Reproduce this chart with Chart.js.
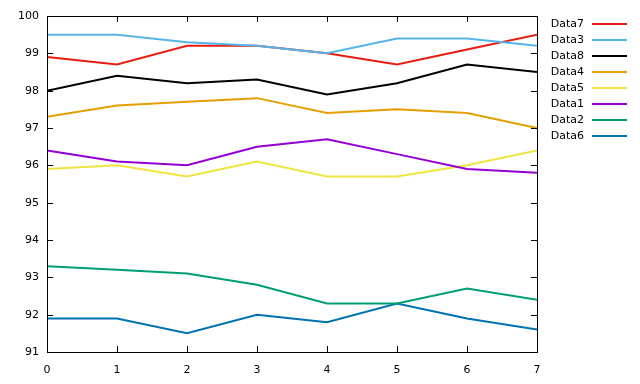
<!DOCTYPE html>
<html>
<head>
<meta charset="utf-8">
<script src="https://cdn.jsdelivr.net/npm/chart.js@4"></script>
<style>
html,body{margin:0;padding:0;background:#fff;}
#wrap{width:640px;height:384px;}
</style>
</head>
<body>
<div id="wrap"><canvas id="c" width="640" height="384"></canvas></div>
<script>
const xValues = [0, 1, 2, 3, 4, 5, 6, 7];
const seriesNames = ["Data1", "Data2", "Data3", "Data4", "Data5", "Data6", "Data7", "Data8"];
const data1 = [96.4, 96.1, 96.0, 96.5, 96.7, 96.3, 95.9, 95.8];
const data2 = [93.3, 93.2, 93.1, 92.8, 92.3, 92.3, 92.7, 92.4];
const data3 = [99.5, 99.5, 99.3, 99.2, 99.0, 99.4, 99.4, 99.2];
const data4 = [97.3, 97.6, 97.7, 97.8, 97.4, 97.5, 97.4, 97.0];
const data5 = [95.9, 96.0, 95.7, 96.1, 95.7, 95.7, 96.0, 96.4];
const data6 = [91.9, 91.9, 91.5, 92.0, 91.8, 92.3, 91.9, 91.6];
const data7 = [98.9, 98.7, 99.2, 99.2, 99.0, 98.7, 99.1, 99.5];
const data8 = [98.0, 98.4, 98.2, 98.3, 97.9, 98.2, 98.7, 98.5];
const legendOrder = ["Data7", "Data3", "Data8", "Data4", "Data5", "Data1", "Data2", "Data6"];
const yTicks = [91, 92, 93, 94, 95, 96, 97, 98, 99, 100];

const colors = {
  Data1: "#9400d3", Data2: "#009e73", Data3: "#56b4e9", Data4: "#e69f00",
  Data5: "#f0e442", Data6: "#0072b2", Data7: "#e51e10", Data8: "#000000"
};
const allValues = [data1, data2, data3, data4, data5, data6, data7, data8];

const datasets = seriesNames.map((name, i) => ({
  label: name,
  data: xValues.map((x, j) => ({x: x, y: allValues[i][j]})),
  borderColor: colors[name],
  backgroundColor: colors[name],
  borderWidth: 2,
  pointRadius: 0,
  tension: 0,
  fill: false
}));

const FONT = "DejaVu Sans";

const framePlugin = {
  id: "frame",
  afterDraw(chart) {
    const ctx = chart.ctx;
    const a = chart.chartArea;
    const xs = chart.scales.x, ys = chart.scales.y;
    ctx.save();
    ctx.strokeStyle = "#000";
    ctx.lineWidth = 1;
    ctx.strokeRect(Math.round(a.left) + 0.5, Math.round(a.top) + 0.5,
                   Math.round(a.right - a.left), Math.round(a.bottom - a.top));
    const tl = 6;
    ctx.beginPath();
    xValues.forEach(v => {
      const px = Math.round(xs.getPixelForValue(v)) + 0.5;
      ctx.moveTo(px, a.bottom); ctx.lineTo(px, a.bottom - tl);
      ctx.moveTo(px, a.top); ctx.lineTo(px, a.top + tl);
    });
    yTicks.forEach(v => {
      const py = Math.round(ys.getPixelForValue(v)) + 0.5;
      ctx.moveTo(a.left, py); ctx.lineTo(a.left + tl, py);
      ctx.moveTo(a.right, py); ctx.lineTo(a.right - tl, py);
    });
    ctx.stroke();
    // legend
    ctx.font = "11px '" + FONT + "'";
    ctx.textAlign = "right";
    ctx.textBaseline = "middle";
    legendOrder.forEach((name, i) => {
      const y = 24 + i * 16;
      ctx.fillStyle = "#000";
      ctx.fillText(name, 584, y);
      ctx.strokeStyle = colors[name];
      ctx.lineWidth = 2;
      ctx.beginPath();
      ctx.moveTo(592, y); ctx.lineTo(627, y);
      ctx.stroke();
    });
    ctx.restore();
  }
};

new Chart(document.getElementById("c"), {
  type: "line",
  data: { datasets },
  plugins: [framePlugin],
  options: {
    responsive: false,
    animation: false,
    devicePixelRatio: 1,
    layout: { padding: { top: 16, right: 103, left: 0, bottom: 0 } },
    plugins: { legend: { display: false }, tooltip: { enabled: false } },
    scales: {
      x: {
        type: "linear", min: 0, max: 7,
        grid: { display: false, drawTicks: false },
        border: { display: false },
        ticks: { stepSize: 1, padding: 12, color: "#000", font: { family: FONT, size: 11 }, maxRotation: 0 },
        afterFit(s) { s.height = 32; }
      },
      y: {
        type: "linear", min: 91, max: 100,
        grid: { display: false, drawTicks: false },
        border: { display: false },
        ticks: { stepSize: 1, padding: 8, color: "#000", font: { family: FONT, size: 11 } },
        afterFit(s) { s.width = 47; }
      }
    }
  }
});
</script>
</body>
</html>
